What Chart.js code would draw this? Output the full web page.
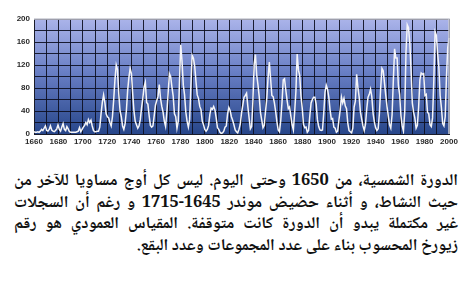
<!DOCTYPE html>
<html lang="ar">
<head>
<meta charset="utf-8">
<script src="https://cdn.jsdelivr.net/npm/chart.js@4/dist/chart.umd.min.js"></script>
<style>
  html, body { margin: 0; padding: 0; background: #fff; }
  body { width: 472px; height: 288px; position: relative; overflow: hidden; }
  #wrap { position: absolute; left: 0; top: 0; width: 472px; height: 152px; }
  #caption {
    position: absolute; top: 171px; right: 14px; width: 444px;
    direction: rtl;
    font-family: "Noto Naskh Arabic", "Noto Sans Arabic", "DejaVu Sans", serif;
    font-weight: bold; font-size: 16.5px; line-height: 21.7px; color: #111;
  }
  #caption .ln { text-align: justify; text-align-last: justify; white-space: nowrap; }
  #caption .ln.last { text-align-last: right; }
</style>
</head>
<body>
<div id="wrap"><canvas id="chart" width="472" height="152"></canvas></div>
<div id="caption">
  <div class="ln">الدورة الشمسية، من 1650 وحتى اليوم. ليس كل أوج مساويا للآخر من</div>
  <div class="ln">حيث النشاط، و أثناء حضيض موندر 1645-1715 و رغم أن السجلات</div>
  <div class="ln">غير مكتملة يبدو أن الدورة كانت متوقفة. المقياس العمودي هو رقم</div>
  <div class="ln last">زيورخ المحسوب بناء على عدد المجموعات وعدد البقع.</div>
</div>
<script>
// Yearly sunspot (Zurich) numbers, first year to last year
const firstYear = 1662;
const lastYear = 1990;
const sunspots = [
  4, 3, 3, 4, 3, 5, 8, 6,                    // 1662-1669
  10, 14, 6, 5, 8, 14, 7, 5, 4, 6,           // 1670s
  9, 16, 8, 5, 12, 18, 8, 6, 13, 9,          // 1680s
  4, 3, 3, 3, 3, 3, 4, 5, 11, 4,             // 1690s
  8, 12, 15, 20, 16, 25, 20, 24, 14, 6,      // 1700s
  4, 4, 5, 5, 12, 35, 55, 68, 55, 35,        // 1710s
  30, 28, 20, 14, 30, 60, 95, 120, 112, 70,  // 1720s
  40, 30, 14, 8, 18, 40, 75, 98, 114, 105,   // 1730s
  70, 40, 22, 16, 10, 14, 25, 45, 62, 82,    // 1740s
  90, 55, 52, 32, 15, 12, 14, 32, 50, 58,    // 1750s
  65, 86, 62, 48, 38, 22, 13, 38, 70, 105,   // 1760s
  100, 82, 66, 35, 30, 10, 22, 92, 155, 126, // 1770s
  85, 68, 38, 22, 12, 25, 83, 137, 132, 118, // 1780s
  92, 68, 62, 48, 42, 22, 16, 8, 5, 8,       // 1790s
  15, 34, 45, 43, 48, 42, 28, 11, 8, 3,      // 1800s
  1, 2, 5, 12, 14, 35, 46, 41, 30, 24,       // 1810s
  16, 7, 4, 2, 8, 17, 36, 50, 64, 67,        // 1820s
  71, 48, 28, 9, 13, 57, 121, 138, 103, 86,  // 1830s
  65, 37, 24, 11, 15, 40, 62, 98, 125, 96,   // 1840s
  67, 65, 54, 39, 21, 7, 4, 23, 55, 94,      // 1850s
  96, 77, 59, 44, 47, 31, 16, 7, 38, 74,     // 1860s
  139, 111, 102, 66, 45, 17, 11, 12, 3, 6,   // 1870s
  32, 54, 60, 64, 64, 52, 25, 13, 7, 6,      // 1880s
  7, 36, 73, 85, 78, 64, 42, 26, 27, 12,     // 1890s
  10, 3, 5, 24, 42, 64, 54, 62, 49, 44,      // 1900s
  19, 6, 4, 2, 10, 47, 57, 104, 81, 64,      // 1910s
  38, 26, 14, 6, 17, 44, 64, 69, 78, 65,     // 1920s
  36, 21, 11, 6, 9, 36, 80, 114, 110, 89,    // 1930s
  68, 48, 31, 16, 10, 33, 93, 148, 132, 132, // 1940s
  84, 69, 32, 14, 5, 38, 142, 190, 185, 159, // 1950s
  112, 54, 38, 28, 10, 15, 47, 94, 106, 104, // 1960s
  105, 67, 69, 38, 35, 16, 13, 28, 93, 178,  // 1970s
  172, 140, 116, 67, 46, 18, 14, 30, 100, 150, // 1980s
  167                                        // 1990
];
const years = [];
for (let y = firstYear; y <= lastYear; y++) years.push(String(y));

// Axis ranges and label spacing
const xAxisMin = 1660, xAxisMax = 2000, xLabelStep = 20, xGridStep = 10;
const yAxisMin = 0, yAxisMax = 200, yLabelStep = 40, yGridStep = 20;

const tickFont = { family: '"Liberation Sans", Arial, sans-serif', size: 8, weight: 'bold' };

// Shaded plot background and light top/right frame
const plotBackdrop = {
  id: 'plotBackdrop',
  beforeDraw(chart) {
    const { ctx, chartArea: a } = chart;
    const g = ctx.createLinearGradient(0, a.top, 0, a.bottom);
    g.addColorStop(0, '#abb4ea');
    g.addColorStop(0.45, '#6a80c6');
    g.addColorStop(1, '#27468a');
    ctx.save();
    ctx.fillStyle = g;
    ctx.fillRect(a.left, a.top, a.right - a.left, a.bottom - a.top);
    ctx.restore();
  },
  afterDraw(chart) {
    const { ctx, chartArea: a } = chart;
    ctx.save();
    ctx.strokeStyle = '#c9cad3';
    ctx.lineWidth = 1.5;
    ctx.beginPath();
    ctx.moveTo(a.left, a.top);
    ctx.lineTo(a.right, a.top);
    ctx.lineTo(a.right, a.bottom);
    ctx.stroke();
    ctx.restore();
  }
};

new Chart(document.getElementById('chart'), {
  type: 'line',
  data: {
    labels: years,
    datasets: [{
      data: sunspots,
      xAxisID: 'x',
      yAxisID: 'y',
      borderColor: '#f6f6f8',
      borderWidth: 1.5,
      pointRadius: 0,
      tension: 0,
      fill: false
    }]
  },
  options: {
    responsive: false,
    animation: false,
    devicePixelRatio: 1,
    layout: { padding: { top: 19, right: 23, left: 0, bottom: 0 } },
    plugins: { legend: { display: false }, tooltip: { enabled: false } },
    scales: {
      x: {
        type: 'category',
        display: false,
        offset: false
      },
      years: {
        type: 'linear',
        position: 'bottom',
        min: xAxisMin,
        max: xAxisMax,
        afterFit(s) { s.height = 18; },
        afterBuildTicks(s) {
          s.ticks = [];
          for (let v = xAxisMin; v <= xAxisMax; v += xGridStep) s.ticks.push({ value: v });
        },
        grid: { color: 'rgba(12,14,32,0.9)', lineWidth: 1, drawTicks: false },
        border: { color: '#1a1c2a', width: 1 },
        ticks: {
          padding: 3,
          color: '#2a2a2a',
          font: tickFont,
          maxRotation: 0,
          autoSkip: false,
          callback: v => (v % xLabelStep === 0 ? String(v) : '')
        }
      },
      y: {
        type: 'linear',
        min: yAxisMin,
        max: yAxisMax,
        afterFit(s) { s.width = 34; },
        grid: { color: 'rgba(12,14,32,0.9)', lineWidth: 1, drawTicks: false },
        border: { color: '#1a1c2a', width: 1 },
        ticks: {
          stepSize: yGridStep,
          padding: 4,
          color: '#2a2a2a',
          font: tickFont,
          autoSkip: false,
          callback: v => (v % yLabelStep === 0 ? String(v) : '')
        }
      }
    }
  },
  plugins: [plotBackdrop]
});
</script>
</body>
</html>
